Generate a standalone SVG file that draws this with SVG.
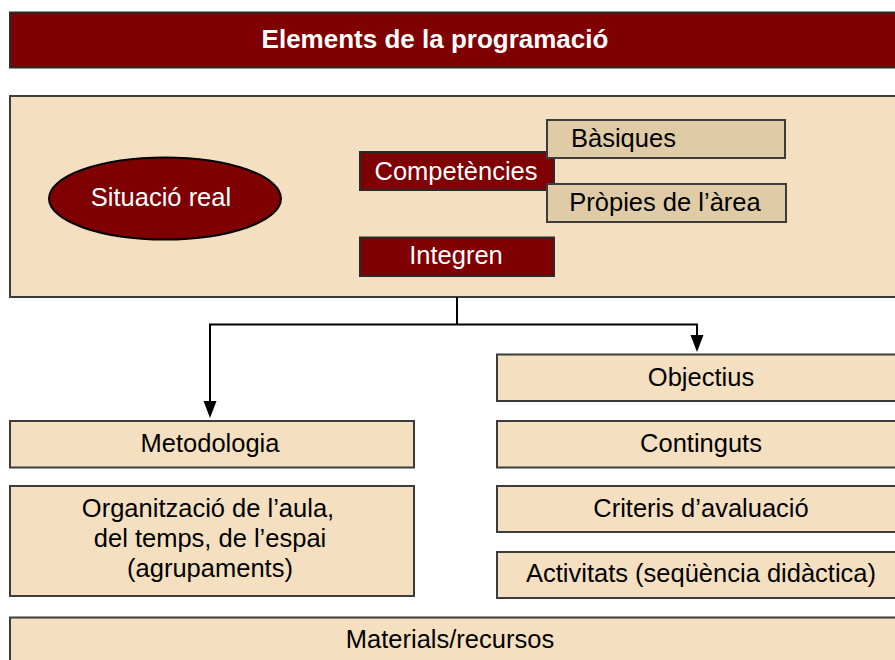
<svg xmlns="http://www.w3.org/2000/svg" width="895" height="660" viewBox="0 0 895 660">
<defs>
<style>
.box{fill:#f4e0c1;stroke:#3c3c3c;stroke-width:2}
.dark{fill:#7f0000;stroke:#2a2a2a;stroke-width:2}
.tan2{fill:#dfcba6;stroke:#3c3c3c;stroke-width:2}
text{font-family:"Liberation Sans",Arial,sans-serif;font-size:25.5px;fill:#000;text-anchor:middle}
.w{fill:#fff}
.title{font-weight:bold;font-size:26px;fill:#fff}
.conn{fill:none;stroke:#000;stroke-width:2}
</style>
</defs>
<rect width="895" height="660" fill="#fff"/>
<g id="title">
<rect class="dark" x="10" y="12.5" width="900" height="55"/>
<text class="title" x="435" y="48">Elements de la programació</text>
</g>
<g id="main">
<rect class="box" x="10" y="96" width="900" height="201"/>
</g>
<g id="situacio">
<ellipse cx="165" cy="198.5" rx="116" ry="41" fill="#7f0000" stroke="#000" stroke-width="2"/>
<text class="w" x="161" y="205.5">Situació real</text>
</g>
<g id="competencies">
<rect class="dark" x="360" y="152" width="194" height="38"/>
<text class="w" x="456" y="179.5">Competències</text>
</g>
<g id="basiques">
<rect class="tan2" x="547" y="120" width="238" height="38"/>
<text x="571" y="146.5" style="text-anchor:start">Bàsiques</text>
</g>
<g id="propies">
<rect class="tan2" x="547" y="184" width="239" height="38"/>
<text x="665" y="210.5">Pròpies de l’àrea</text>
</g>
<g id="integren">
<rect class="dark" x="360" y="237.5" width="194" height="38.5"/>
<text class="w" x="456" y="263.5">Integren</text>
</g>
<g id="connectors">
<path class="conn" d="M457,297 V324.5"/>
<path class="conn" d="M457,324.5 H210 V404"/>
<path class="conn" d="M457,324.5 H697 V338"/>
<path d="M203.5,401 L216.5,401 L210,418 Z" fill="#000"/>
<path d="M690.5,335 L703.5,335 L697,352 Z" fill="#000"/>
</g>
<g id="objectius">
<rect class="box" x="497" y="354.5" width="410" height="46.5"/>
<text x="701" y="386">Objectius</text>
</g>
<g id="metodologia">
<rect class="box" x="10" y="421" width="404" height="46.5"/>
<text x="210" y="451.5">Metodologia</text>
</g>
<g id="continguts">
<rect class="box" x="497" y="421" width="410" height="46.5"/>
<text x="701" y="451.5">Continguts</text>
</g>
<g id="organitzacio">
<rect class="box" x="10" y="486" width="404" height="110"/>
<text x="208" y="516.5">Organització de l’aula,</text>
<text x="210" y="547">del temps, de l’espai</text>
<text x="210" y="576.5">(agrupaments)</text>
</g>
<g id="criteris">
<rect class="box" x="497" y="486" width="410" height="46"/>
<text x="701" y="517">Criteris d’avaluació</text>
</g>
<g id="activitats">
<rect class="box" x="497" y="552" width="410" height="46"/>
<text x="701" y="582">Activitats (seqüència didàctica)</text>
</g>
<g id="materials">
<rect class="box" x="10" y="617.5" width="900" height="60"/>
<text x="450" y="648">Materials/recursos</text>
</g>
</svg>
